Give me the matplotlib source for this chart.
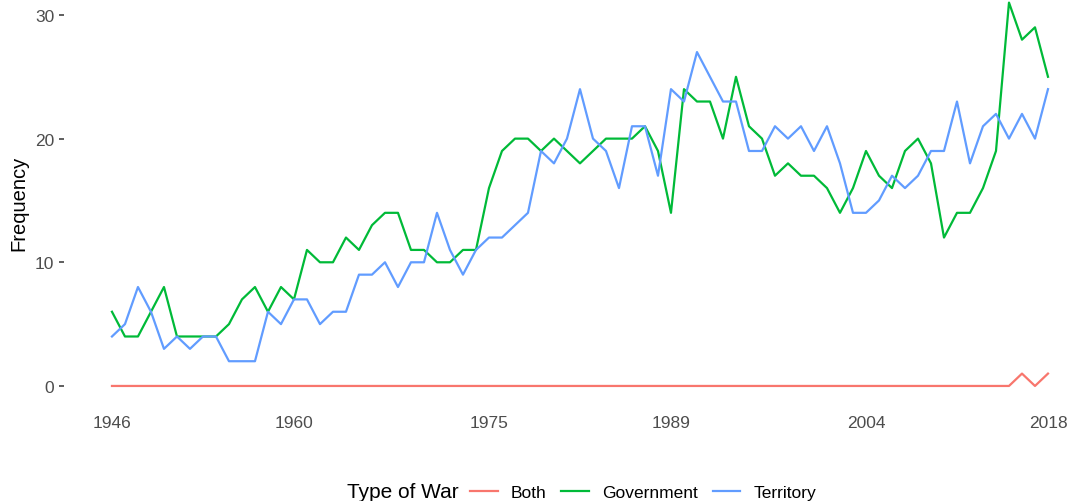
import numpy as np
import matplotlib
matplotlib.use("Agg")
import matplotlib.pyplot as plt

plt.rcParams['font.family'] = ['Liberation Sans', 'DejaVu Sans']

# Wars per year by type, 1946-2018
years = np.arange(1946, 2019)

both = [0] * 70 + [1, 0, 1]

government = [6, 4, 4, 6, 8, 4, 4, 4, 4, 5,
              7, 8, 6, 8, 7, 11, 10, 10, 12, 11,
              13, 14, 14, 11, 11, 10, 10, 11, 11, 16,
              19, 20, 20, 19, 20, 19, 18, 19, 20, 20,
              20, 21, 19, 14, 24, 23, 23, 20, 25, 21,
              20, 17, 18, 17, 17, 16, 14, 16, 19, 17,
              16, 19, 20, 18, 12, 14, 14, 16, 19, 31,
              28, 29, 25]

territory = [4, 5, 8, 6, 3, 4, 3, 4, 4, 2,
             2, 2, 6, 5, 7, 7, 5, 6, 6, 9,
             9, 10, 8, 10, 10, 14, 11, 9, 11, 12,
             12, 13, 14, 19, 18, 20, 24, 20, 19, 16,
             21, 21, 17, 24, 23, 27, 25, 23, 23, 19,
             19, 21, 20, 21, 19, 21, 18, 14, 14, 15,
             17, 16, 17, 19, 19, 23, 18, 21, 22, 20,
             22, 20, 24]

series = {
    'Both': (both, '#F8766D'),
    'Government': (government, '#00BA38'),
    'Territory': (territory, '#619CFF'),
}

x_breaks = [1946, 1960, 1975, 1989, 2004, 2018]
y_breaks = [0, 10, 20, 30]

fig = plt.figure(figsize=(10.71, 5.02), dpi=100)
ax = fig.add_axes([64 / 1071, 96 / 502, 1 - 64 / 1071, 406 / 502])

for name, (vals, color) in series.items():
    ax.plot(years, vals, color=color, linewidth=1.6, label=name)

ax.set_xlim(1942.31, 2019.77)
ax.set_ylim(-1.54, 31.29)
ax.set_xticks(x_breaks)
ax.set_xticklabels([str(y) for y in x_breaks])
ax.set_yticks(y_breaks)

for side in ax.spines.values():
    side.set_visible(False)

ax.tick_params(axis='x', length=0, pad=7.5, labelsize=12.5, labelcolor='#4D4D4D')
ax.tick_params(axis='y', length=3.5, width=1.1, pad=3.5, color='#333333',
               labelsize=12.5, labelcolor='#4D4D4D')
ax.set_ylabel('Frequency', fontsize=14.5, labelpad=5)

# legend at the bottom with the title on the left
fig.text(459 / 1071, 9 / 502, 'Type of War', ha='right', va='center', fontsize=15)
handles, labels = ax.get_legend_handles_labels()
fig.legend(handles, labels, loc='center left', bbox_to_anchor=(470 / 1071, 9 / 502),
           ncol=3, frameon=False, fontsize=12.5, handlelength=1.6,
           handletextpad=0.75, columnspacing=0.85, borderaxespad=0, borderpad=0)

fig.savefig('out.png', dpi=100)
